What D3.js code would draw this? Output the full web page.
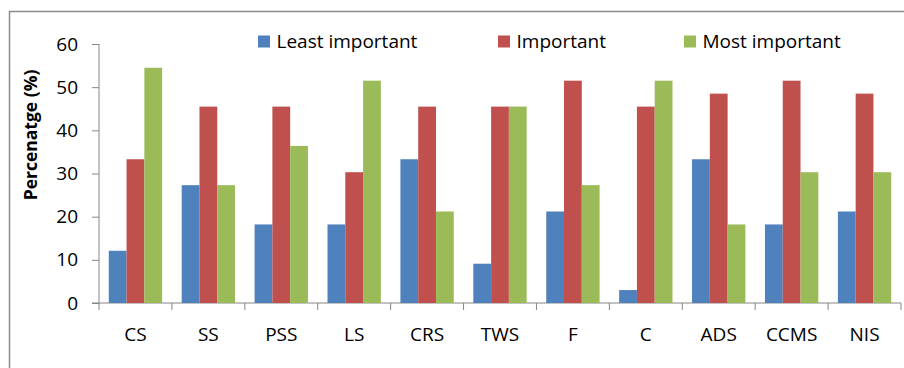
<!DOCTYPE html>
<html>
<head>
<meta charset="utf-8">
<script src="https://cdn.jsdelivr.net/npm/d3@7"></script>
<style>
  body { margin: 0; background: #fff; }
  svg text { font-family: "Open Sans", Lato, sans-serif; fill: #000; }
</style>
</head>
<body>
<div id="chart"></div>
<script>
/* CONSTANTS AND GLOBALS */
const width = 904,
  height = 368,
  margin = { top: 44, bottom: 65, left: 99, right: 3 };

// data: share of respondents (%) per factor
const categories = ["CS", "SS", "PSS", "LS", "CRS", "TWS", "F", "C", "ADS", "CCMS", "NIS"];
const seriesNames = ["Least important", "Important", "Most important"];
const leastImportant = [12.1, 27.3, 18.2, 18.2, 33.3, 9.1, 21.2, 3.0, 33.3, 18.2, 21.2];
const important = [33.3, 45.5, 45.5, 30.3, 45.5, 45.5, 51.5, 45.5, 48.5, 51.5, 48.5];
const mostImportant = [54.5, 27.3, 36.4, 51.5, 21.2, 45.5, 27.3, 51.5, 18.2, 30.3, 30.3];
const yTicks = [0, 10, 20, 30, 40, 50, 60];
const colors = ["#4F81BD", "#C0504D", "#9BBB59"];

const seriesValues = [leastImportant, important, mostImportant];
const data = categories.map((c, i) => ({
  cat: c,
  vals: seriesNames.map((s, j) => ({ key: s, value: seriesValues[j][i] }))
}));

const svg = d3.select("#chart")
  .append("svg")
  .attr("width", width)
  .attr("height", height);

// outer frame (only top and left edges visible)
svg.append("path")
  .attr("d", `M9.5,${height} V11.5 H${width}`)
  .attr("fill", "none")
  .attr("stroke", "#8c8c8c")
  .attr("stroke-width", 1.5);

//SCALES
const xScale = d3.scaleBand()
  .domain(categories)
  .range([margin.left, width - margin.right]);

const xInner = d3.scaleBand()
  .domain(seriesNames)
  .range([0, xScale.bandwidth()])
  .paddingOuter(0.55)
  .paddingInner(0);

const yScale = d3.scaleLinear()
  .domain([0, 60])
  .range([height - margin.bottom, margin.top]);

//AXES
const yAxis = d3.axisLeft(yScale)
  .tickValues(yTicks)
  .tickSize(7)
  .tickPadding(14);

const yAxisGroup = svg.append("g")
  .attr("transform", `translate(${margin.left}, 0)`)
  .call(yAxis);

yAxisGroup.select(".domain").attr("d", `M0,${yScale(60)}V${yScale(0)}`);

// x axis baseline and category ticks
const xAxisGroup = svg.append("g")
  .attr("transform", `translate(0, ${yScale(0)})`);

xAxisGroup.append("line")
  .attr("x1", margin.left - 7)
  .attr("x2", xScale.range()[1])
  .attr("stroke", "#868686");

const tickXs = categories.map(c => xScale(c)).concat([xScale.range()[1]]);
xAxisGroup.selectAll(".xtick")
  .data(tickXs)
  .join("line")
  .attr("class", "xtick")
  .attr("x1", d => d).attr("x2", d => d)
  .attr("y1", 0).attr("y2", 7)
  .attr("stroke", "#868686");

xAxisGroup.selectAll(".xlabel")
  .data(categories)
  .join("text")
  .attr("class", "xlabel")
  .attr("x", d => xScale(d) + xScale.bandwidth() / 2)
  .attr("y", 31)
  .attr("dy", "0.35em")
  .attr("text-anchor", "middle")
  .attr("font-size", 19)
  .text(d => d);

svg.selectAll(".domain, .tick line").attr("stroke", "#868686");
yAxisGroup.selectAll(".tick text")
  .attr("font-size", 19)
  .attr("fill", "#000")
  .attr("font-family", "'Open Sans', sans-serif");

// axis title
svg.append("text")
  .attr("transform", `translate(31, 135) rotate(-90)`)
  .attr("text-anchor", "middle")
  .attr("dy", "0.35em")
  .attr("font-size", 17.5)
  .attr("font-weight", "bold")
  .text("Percenatge (%)");

// BARS
const groups = svg.selectAll(".group")
  .data(data)
  .join("g")
  .attr("class", "group")
  .attr("transform", d => `translate(${xScale(d.cat)}, 0)`);

groups.selectAll("rect")
  .data(d => d.vals)
  .join("rect")
  .attr("x", d => xInner(d.key))
  .attr("width", xInner.bandwidth())
  .attr("y", d => yScale(d.value))
  .attr("height", d => yScale(0) - yScale(d.value))
  .attr("fill", (d, i) => colors[i]);

// LEGEND
const legendX = [258, 498, 684];
const legend = svg.selectAll(".legend")
  .data(seriesNames)
  .join("g")
  .attr("class", "legend")
  .attr("transform", (d, i) => `translate(${legendX[i]}, 41)`);

legend.append("rect")
  .attr("x", 0)
  .attr("y", -5.5)
  .attr("width", 12)
  .attr("height", 12)
  .attr("fill", (d, i) => colors[i]);

legend.append("text")
  .attr("x", 18.5)
  .attr("dy", "0.35em")
  .attr("font-size", 19)
  .text(d => d);
</script>
</body>
</html>
